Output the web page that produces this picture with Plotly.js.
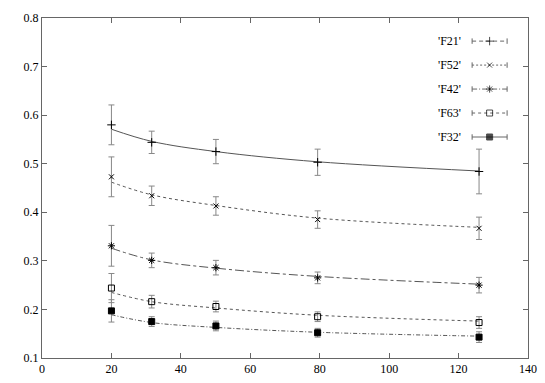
<!DOCTYPE html>
<html>
<head>
<meta charset="utf-8">
<script src="https://cdn.plot.ly/plotly-3.0.1.min.js"></script>
<style>
  html, body { margin: 0; padding: 0; background: #fff; }
  #plot { width: 545px; height: 383px; }
</style>
</head>
<body>
<div id="plot"></div>
<script>
var xs = [20, 31.6, 50.1, 79.4, 125.9];

var names = ["'F21'", "'F52'", "'F42'", "'F63'", "'F32'"];

// measured points
var f21 = [0.580, 0.544, 0.525, 0.503, 0.484];
var f52 = [0.473, 0.434, 0.413, 0.385, 0.367];
var f42 = [0.331, 0.301, 0.286, 0.265, 0.250];
var f63 = [0.244, 0.216, 0.206, 0.185, 0.173];
var f32 = [0.197, 0.175, 0.166, 0.152, 0.143];

// error bar half widths
var e21 = [0.041, 0.023, 0.025, 0.027, 0.046];
var e52 = [0.041, 0.020, 0.019, 0.018, 0.023];
var e42 = [0.042, 0.015, 0.015, 0.012, 0.016];
var e63 = [0.030, 0.013, 0.011, 0.010, 0.012];
var e32 = [0.023, 0.010, 0.010, 0.009, 0.011];

// fitted curves, read at the same x positions
var fit21 = [0.571, 0.546, 0.525, 0.504, 0.485];
var fit52 = [0.462, 0.436, 0.414, 0.388, 0.369];
var fit42 = [0.326, 0.302, 0.285, 0.268, 0.252];
var fit63 = [0.235, 0.216, 0.203, 0.188, 0.176];
var fit32 = [0.189, 0.173, 0.163, 0.153, 0.145];

var ys = [f21, f52, f42, f63, f32];
var errs = [e21, e52, e42, e63, e32];
var fits = [fit21, fit52, fit42, fit63, fit32];
var symbols = ['cross-thin-open', 'x-thin-open', 'asterisk-open', 'square-open', 'square'];
var sizes = [6, 5, 6, 6, 6];
var fitDash = ['solid', 'dot', 'dashdot', '3px,3px', '4px,2px,1px,2px'];
var keyDash = ['4px,3px', '2px,2px', '5px,2px,1px,2px', '3px,3px', 'solid'];

var font = {family: 'Liberation Serif, DejaVu Serif, serif', size: 12, color: '#000'};
var traces = [];
var annotations = [];

for (var i = 0; i < names.length; i++) {
  traces.push({
    x: xs, y: fits[i], type: 'scatter', mode: 'lines',
    line: {color: '#555', width: 1, dash: fitDash[i], shape: 'spline'},
    hoverinfo: 'skip', showlegend: false
  });
  traces.push({
    x: xs, y: ys[i], type: 'scatter', mode: 'markers', name: names[i],
    marker: {symbol: symbols[i], size: sizes[i], color: '#000', line: {color: '#000', width: 1}},
    error_y: {type: 'data', array: errs[i], visible: true, color: '#888', thickness: 1, width: 3},
    showlegend: false
  });

  // gnuplot style key on the right, text left of the sample
  var ky = 0.932 - i * 0.0705;
  annotations.push({
    xref: 'paper', yref: 'paper', x: 0.866, y: ky, xanchor: 'right', yanchor: 'middle',
    text: names[i], showarrow: false, font: font
  });
  traces.push({
    x: [0.885, 0.921, 0.957], y: [ky, ky, ky], xaxis: 'x2', yaxis: 'y2',
    type: 'scatter', mode: 'lines+markers',
    line: {color: '#666', width: 1, dash: keyDash[i]},
    marker: {symbol: symbols[i], size: [0, sizes[i], 0], color: '#000', line: {color: '#000', width: 1}},
    error_y: {type: 'data', array: [0.008, 0, 0.008], visible: true, color: '#666', thickness: 1, width: 0},
    hoverinfo: 'skip', showlegend: false
  });
}

var axisStyle = {
  showgrid: false, zeroline: false, showline: true, linecolor: '#666', linewidth: 1,
  mirror: 'ticks', ticks: 'inside', ticklen: 5, tickcolor: '#666',
  tickfont: font
};

var layout = {
  width: 545, height: 383,
  margin: {l: 42, r: 17, t: 18, b: 25},
  paper_bgcolor: '#fff', plot_bgcolor: '#fff',
  font: font,
  showlegend: false,
  xaxis: Object.assign({range: [0, 140], dtick: 20}, axisStyle),
  yaxis: Object.assign({range: [0.1, 0.8], dtick: 0.1, tickformat: '.1f'}, axisStyle),
  xaxis2: {overlaying: 'x', range: [0, 1], visible: false},
  yaxis2: {overlaying: 'y', range: [0, 1], visible: false},
  annotations: annotations
};

Plotly.newPlot('plot', traces, layout, {displayModeBar: false, staticPlot: true});
</script>
</body>
</html>
